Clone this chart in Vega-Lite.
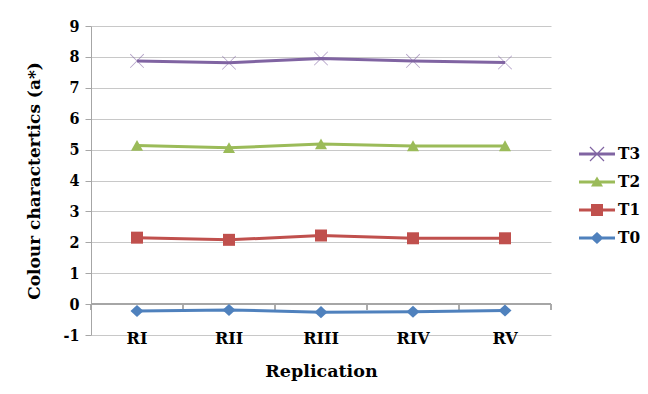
{
  "$schema": "https://vega.github.io/schema/vega-lite/v6.json",
  "width": 460,
  "height": 309,
  "autosize": {"type": "none"},
  "padding": {"left": 91, "top": 26, "right": 97, "bottom": 59},
  "background": "white",
  "config": {
    "view": {"stroke": null},
    "font": "DejaVu Serif",
    "axis": {"labelFont": "DejaVu Serif", "titleFont": "DejaVu Serif", "labelColor": "#000000", "titleColor": "#000000", "labelFontWeight": "bold", "titleFontWeight": "bold"},
    "legend": {"labelFont": "DejaVu Serif Condensed"}
  },
  "data": {
    "values": [
      {"rep": "RI", "series": "T3", "a": 7.87},
      {"rep": "RII", "series": "T3", "a": 7.81},
      {"rep": "RIII", "series": "T3", "a": 7.95},
      {"rep": "RIV", "series": "T3", "a": 7.87},
      {"rep": "RV", "series": "T3", "a": 7.82},
      {"rep": "RI", "series": "T2", "a": 5.13},
      {"rep": "RII", "series": "T2", "a": 5.06},
      {"rep": "RIII", "series": "T2", "a": 5.18},
      {"rep": "RIV", "series": "T2", "a": 5.12},
      {"rep": "RV", "series": "T2", "a": 5.12},
      {"rep": "RI", "series": "T1", "a": 2.15},
      {"rep": "RII", "series": "T1", "a": 2.08},
      {"rep": "RIII", "series": "T1", "a": 2.22},
      {"rep": "RIV", "series": "T1", "a": 2.13},
      {"rep": "RV", "series": "T1", "a": 2.13},
      {"rep": "RI", "series": "T0", "a": -0.22},
      {"rep": "RII", "series": "T0", "a": -0.19},
      {"rep": "RIII", "series": "T0", "a": -0.26},
      {"rep": "RIV", "series": "T0", "a": -0.25},
      {"rep": "RV", "series": "T0", "a": -0.21}
    ]
  },
  "encoding": {
    "x": {
      "field": "rep", "type": "nominal",
      "sort": ["RI", "RII", "RIII", "RIV", "RV"],
      "scale": {"type": "band", "paddingInner": 0, "paddingOuter": 0},
      "axis": {
        "title": "Replication", "titleFontSize": 17.5, "titlePadding": 16,
        "labelFontSize": 16, "labelAngle": 0, "labelBaseline": "middle", "labelPadding": 3,
        "domain": false, "ticks": false, "grid": false
      }
    },
    "y": {
      "field": "a", "type": "quantitative",
      "scale": {"domain": [-1, 9], "nice": false, "zero": false},
      "axis": {
        "title": "Colour charactertics (a*)", "titleFontSize": 17, "titlePadding": 20,
        "values": [-1, 0, 1, 2, 3, 4, 5, 6, 7, 8, 9], "labelOverlap": false,
        "labelExpr": "replace(datum.label, '\u2212', '-')",
        "labelFontSize": 16, "labelPadding": 6, "labelFont": "DejaVu Serif Condensed",
        "grid": true, "gridColor": "#C8C8C8", "gridWidth": 1,
        "domainColor": "#A6A6A6", "tickColor": "#A6A6A6", "tickSize": 6
      }
    },
    "color": {
      "field": "series", "type": "nominal",
      "scale": {"domain": ["T3", "T2", "T1", "T0"], "range": ["#8064A2", "#9BBB59", "#C0504D", "#4F81BD"]},
      "legend": {
        "title": null, "orient": "none", "legendX": 506, "legendY": 119, "padding": 0,
        "symbolSize": 324, "rowPadding": 11, "labelOffset": 3,
        "labelFontWeight": "bold", "labelFontSize": 17, "labelColor": "#000000",
        "encoding": {
          "symbols": {
            "shape": {"value": {"expr": "datum.value === 'T3' ? 'M-3,-0.167H1V0.167H-3ZM-1.733,-0.827L-0.173,0.733L-0.267,0.827L-1.827,-0.733ZM-1.827,0.733L-0.267,-0.827L-0.173,-0.733L-1.733,0.827Z' : datum.value === 'T2' ? 'M-3,-0.167H1V0.167H-3ZM-1,-0.61L-0.333,0.5L-1.667,0.5Z' : datum.value === 'T1' ? 'M-3,-0.167H1V0.167H-3ZM-1.667,-0.667H-0.333V0.667H-1.667Z' : 'M-3,-0.167H1V0.167H-3ZM-1.72,0L-1,-0.667L-0.28,0L-1,0.667Z'"}},
            "fill": {"value": {"expr": "datum.value === 'T3' ? '#8064A2' : datum.value === 'T2' ? '#9BBB59' : datum.value === 'T1' ? '#C0504D' : '#4F81BD'"}},
            "strokeWidth": {"value": 0},
            "opacity": {"value": 1}
          }
        }
      }
    }
  },
  "layer": [
    {
      "mark": {"type": "rule", "color": "#A6A6A6", "strokeWidth": 1},
      "encoding": {
        "x": null, "color": null,
        "y": {"datum": 0, "type": "quantitative"}
      }
    },
    {
      "mark": {"type": "rule", "color": "#A6A6A6", "strokeWidth": 1},
      "encoding": {
        "x": {"field": "rep", "type": "nominal", "bandPosition": 0, "sort": ["RI", "RII", "RIII", "RIV", "RV"]},
        "color": null,
        "y": {"datum": 0, "type": "quantitative"},
        "y2": {"datum": -0.19}
      }
    },
    {
      "transform": [{"filter": "datum.rep === 'RV'"}],
      "mark": {"type": "rule", "color": "#A6A6A6", "strokeWidth": 1},
      "encoding": {
        "x": {"field": "rep", "type": "nominal", "bandPosition": 1, "sort": ["RI", "RII", "RIII", "RIV", "RV"]},
        "color": null,
        "y": {"datum": 0, "type": "quantitative"},
        "y2": {"datum": -0.19}
      }
    },
    {
      "mark": {"type": "line", "strokeWidth": 3}
    },
    {
      "transform": [{"filter": "datum.series === 'T3'"}],
      "mark": {"type": "point", "filled": true, "size": 196, "opacity": 0.6, "strokeWidth": 0, "shape": "M-0.93,-1.01L1.01,0.93L0.93,1.01L-1.01,-0.93ZM-1.01,0.93L0.93,-1.01L1.01,-0.93L-0.93,1.01Z"}
    },
    {
      "transform": [{"filter": "datum.series === 'T2'"}],
      "mark": {"type": "point", "filled": true, "size": 196, "opacity": 1, "strokeWidth": 0, "shape": "M0,-0.8L0.86,0.75L-0.86,0.75Z"}
    },
    {
      "transform": [{"filter": "datum.series === 'T1'"}],
      "mark": {"type": "point", "filled": true, "size": 196, "opacity": 1, "strokeWidth": 0, "shape": "M-0.857,-0.857H0.857V0.857H-0.857Z"}
    },
    {
      "transform": [{"filter": "datum.series === 'T0'"}],
      "mark": {"type": "point", "filled": true, "size": 196, "opacity": 1, "strokeWidth": 0, "shape": "M-0.93,0L0,-0.86L0.93,0L0,0.86Z"}
    }
  ]
}
